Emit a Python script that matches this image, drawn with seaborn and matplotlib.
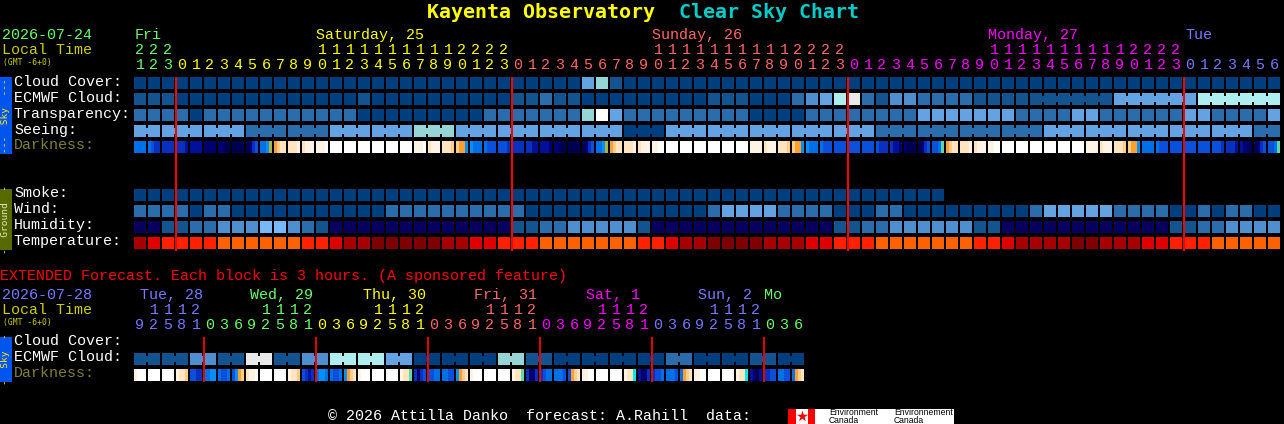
import numpy as np
import matplotlib
matplotlib.use("Agg")
import matplotlib.pyplot as plt
from matplotlib.colors import ListedColormap
from matplotlib.patches import Rectangle
import seaborn as sns

W, H = 1284, 424

# colour codes used by the block rows
block_colors = {
    "a": "#003f7f", "b": "#13538f", "c": "#2b6cad", "d": "#4f8fd0", "e": "#63a3e3",
    "f": "#95d5d5", "g": "#aeeeee", "h": "#ffffff", "i": "#e9e9e9", "z": "#08005f",
    "l": "#78b8f8", "n": "#7f0000", "m": "#a80000", "r": "#e00000", "s": "#ff2000",
    "o": "#ff6000",
}
dark_colors = {
    "0": "#000050", "1": "#00006e", "2": "#00109a", "3": "#0a30c0", "4": "#0a50dc",
    "5": "#0070e8", "6": "#0090f8", "t": "#60d8a0", "q": "#b0b040", "y": "#00e8e8",
    "8": "#f8a030", "9": "#ffcc88", "A": "#ffe4c0", "B": "#fff4e4", "C": "#ffffff",
}

# main chart, one letter per hour
cloud_cover = "a" * 32 + "efb" + "a" * 47
ecmwf_cloud = ("bbb" + "a" * 13 + "b" + "a" * 10 + "bbcbb" + "a" * 9 + "bbb" + "aaa" + "cdegi"
               + "cbddcccc" + "b" * 10 + "e" * 6 + "g" * 6)
transparency = ("cccca" + "c" * 11 + "a" * 5 + "aaaa" + "c" * 7 + "fhe" + "c" * 9 + "aaaa"
                + "cccc" + "cccc" + "eeeeeee" + "cccc" + "ee" + "cccccc" + "ee" + "cccc" + "e")
seeing = ("ee" + "eee" + "eee" + "ccc" + "ccc" + "eee" + "eee" + "fff" + "eee" + "eee" + "eee"
          + "eee" + "aaa" + "eee" + "eee" + "eee" + "eee" + "eee" + "ccc" + "ccc" + "ccc"
          + "ccc" + "eee" + "eee" + "eee" + "eee" + "eee" + "cc")
smoke = "a" * 58 + "." * 24
wind = ("ccccacc" + "a" * 11 + "c" * 10 + "a" * 13 + "c" + "eeee" + "cccc" + "aaa" + "cc"
        + "a" * 9 + "c" + "eeeee" + "cccc" + "aa" + "cacc" + "aa")
humidity = ("zzbbccdddlldcb" + "z" * 13 + "bbccddddd" + "b" + "z" * 13 + "bb" + "cc" + "dddddd"
            + "bb" + "z" * 12 + "bbcc" + "dddd")
temperature = ("mrssssoooooossrmmnnnnn" + "mmrrsss" + "ooooooo" + "ssrmm" + "nnnn" + "mmm"
               + "rr" + "sss" + "ooooooo" + "ssr" + "mmmm" + "nn" + "mmm" + "rr" + "sss" + "ooooo")

darkness = [
    "5555", "5433", "3333", "3332", "2222", "1111", "1100", "0000", "0134", "556q", "89AA", "AAAB",
    "ABBB", "BBBC", "CCCC", "CCCC", "CCCC", "CCCC", "CCCC", "CCCC", "BBBC", "ABBB", "AAA9", "9886",
    "6555", "5444", "4443", "3333", "3322", "2221", "1100", "0000", "0134", "556q", "89AA", "AAAB",
    "ABBB", "BBCC", "CCCC", "CCCC", "CCCC", "CCCC", "CCCC", "CCCC", "BBBB", "ABBB", "AAA9", "9886",
    "6555", "5444", "4444", "4444", "4444", "4333", "3221", "1000", "0134", "445t", "89AA", "AAAB",
    "ABBB", "BBCC", "CCCC", "CCCC", "CCCC", "CCCC", "CCCC", "CCCC", "BBBB", "ABBB", "AAA9", "9886",
    "5555", "5444", "4444", "4444", "4444", "4443", "3332", "2110", "0134", "445t",
]

seeing_groups = [0] + list(range(2, 82, 3))
ecmwf_groups = list(range(0, 65)) + [70, 76]

# extended chart, one letter per block
ext_cloud = ("bbbbddbbiibbddgggg" + "ee" + "aaaaaa" + "ff" + "bbaaaaaaaacc" + "aaaa" + "bbaa")
ext_groups = list(range(0, 48, 2))
ext_darkness = [
    "BCCC", "CCCC", "CCCC", "BAA9", "4433", "5566", "5445", "4689", "ABBC", "CCCC", "CCCC", "BAA9",
    "4323", "5665", "5445", "689A", "BCCC", "CCCC", "CCCC", "BAAt", "3134", "4455", "5544", "689A",
    "BCCC", "CCCC", "CCCC", "BAAt", "3113", "3455", "5554", "489A", "BBCC", "CCCC", "CCCC", "BAAy",
    "2113", "3445", "5554", "589A", "BBCC", "CCCC", "CCCC", "BAAy", "2102", "3344", "5544", "589A",
]

# hour labels and the day they belong to
main_hours = [21, 22, 23] + list(range(24)) * 3 + list(range(7))
main_hour_colors = ["#66ff66"] * 3 + ["#ffff00"] * 24 + ["#ff6666"] * 24 + ["#ff00ff"] * 24 + ["#7777ff"] * 7
main_days = ["Fri", "Saturday, 25", "Sunday, 26", "Monday, 27", "Tue"]
main_day_x = [135, 316, 652, 988, 1185]
main_day_colors = ["#66ff66", "#ffff00", "#ff6666", "#ff00ff", "#7777ff"]
main_midnights = [3, 27, 51, 75]

ext_hours = [9, 12, 15, 18, 21] + [0, 3, 6, 9, 12, 15, 18, 21] * 5 + [0, 3, 6]
ext_hour_colors = (["#7777ff"] * 5 + ["#66ff66"] * 8 + ["#ffff00"] * 8 + ["#ff6666"] * 8
                   + ["#ff00ff"] * 8 + ["#7777ff"] * 8 + ["#66ff66"] * 3)
ext_days = ["Tue, 28", "Wed, 29", "Thu, 30", "Fri, 31", "Sat, 1", "Sun, 2", "Mo"]
ext_day_x = [140, 250, 363, 474, 586, 698, 764]
ext_day_colors = ["#7777ff", "#66ff66", "#ffff00", "#ff6666", "#ff00ff", "#7777ff", "#66ff66"]
ext_midnights = [5, 13, 21, 29, 37, 45]

LEFT = 134
PITCH = 14
BLOCK_CMAP = ListedColormap(list(block_colors.values()))
DARK_CMAP = ListedColormap(list(dark_colors.values()))
BLOCK_KEYS = list(block_colors.keys())
DARK_KEYS = list(dark_colors.keys())
MONO = "Liberation Mono"

sns.set_style("white")
fig = plt.figure(figsize=(W / 100, H / 100), dpi=100, facecolor="black")


def px_axes(left, top, width, height):
    ax = fig.add_axes([left / W, 1 - (top + height) / H, width / W, height / H])
    ax.set_facecolor("black")
    return ax


def block_row(top, codes, groups=None):
    # one heatmap column per pixel: 12 px block, then a 2 px masked gap
    n = len(codes)
    vals = []
    for c in codes:
        vals += [BLOCK_KEYS.index(c) if c != "." else -1] * 12 + [-1, -1]
    vals = np.array([vals])
    ax = px_axes(LEFT, top, n * PITCH, 12)
    sns.heatmap(vals, mask=vals < 0, cmap=BLOCK_CMAP, vmin=-0.5, vmax=len(BLOCK_KEYS) - 0.5, cbar=False,
                xticklabels=False, yticklabels=False, ax=ax)
    if groups is not None:
        ends = groups[1:] + [n]
        for s, e in zip(groups, ends):
            for i in range(s, e - 1):
                if codes[i] == codes[i + 1]:
                    ax.hlines(0.5, (i + 1) * PITCH - 2, (i + 1) * PITCH, color=block_colors[codes[i]],
                              linewidth=6 * 72 / 100, capstyle="butt", zorder=5)


def darkness_row(top, samples):
    # every block is 4 samples of 3 px, then a 2 px gap
    vals = []
    for cell in samples:
        for c in cell:
            vals += [DARK_KEYS.index(c)] * 3
        vals += [-1, -1]
    vals = np.array([vals])
    ax = px_axes(LEFT, top, len(samples) * PITCH, 12)
    sns.heatmap(vals, mask=vals < 0, cmap=DARK_CMAP, vmin=-0.5, vmax=len(DARK_KEYS) - 0.5, cbar=False,
                xticklabels=False, yticklabels=False, ax=ax)


# main sky rows
block_row(77, cloud_cover)
block_row(93, ecmwf_cloud, ecmwf_groups)
block_row(109, transparency)
block_row(125, seeing, seeing_groups)
darkness_row(141, darkness)
# ground rows
block_row(189, smoke)
block_row(205, wind)
block_row(221, humidity)
block_row(237, temperature)
# extended rows
block_row(353, ext_cloud, ext_groups)
darkness_row(369, ext_darkness)

# overlay in pixel coordinates for text and the midnight lines
ov = fig.add_axes([0, 0, 1, 1], zorder=10)
ov.set_xlim(0, W)
ov.set_ylim(H, 0)
ov.axis("off")


def label(x, y, s, color="white", size=15, **kw):
    # y is the text baseline
    kw.setdefault("family", MONO)
    ov.text(x, y, s, color=color, fontsize=size * 0.72, ha=kw.pop("ha", "left"), va="baseline", **kw)


for m in main_midnights:
    ov.vlines(LEFT + m * PITCH, 77, 251, color="#ff0000", linewidth=2 * 0.72)
for m in ext_midnights:
    ov.vlines(LEFT + m * PITCH, 337, 382, color="#e80000", linewidth=2 * 0.72)

label(427, 18, "Kayenta Observatory", "#ffff00", 20, fontweight="bold", family="DejaVu Sans Mono")
label(679, 18, "Clear Sky Chart", "#00cccc", 20, fontweight="bold", family="DejaVu Sans Mono")

# date blocks on the left
label(2, 39, "2026-07-24", "#66ff66")
label(2, 54, "Local Time", "#cccc00")
label(3, 64.5, "(GMT -6+0)", "#cccc00", 8, family="DejaVu Sans Mono")
label(2, 299, "2026-07-28", "#7777ff")
label(2, 314, "Local Time", "#cccc00")
label(3, 324.5, "(GMT -6+0)", "#cccc00", 8, family="DejaVu Sans Mono")
label(0, 280, "EXTENDED Forecast. Each block is 3 hours. (A sponsored feature)", "#ff0000")

for name, x, col in zip(main_days, main_day_x, main_day_colors):
    label(x, 39, name, col)
for name, x, col in zip(ext_days, ext_day_x, ext_day_colors):
    label(x, 299, name, col)


def hour_labels(hours, colors, tens_y, units_y):
    for i, (h, col) in enumerate(zip(hours, colors)):
        x = LEFT + i * PITCH + 6
        if h >= 10:
            label(x, tens_y, str(h // 10), col, ha="center")
        label(x, units_y, str(h % 10), col, ha="center")


hour_labels(main_hours, main_hour_colors, 54, 69)
hour_labels(ext_hours, ext_hour_colors, 314, 329)

for y, s, col in [(86, "Cloud Cover:", "white"), (102, "ECMWF Cloud:", "white"), (118, "Transparency:", "white"),
                  (134, "Seeing:", "white"), (149, "Darkness:", "#808033"), (197, "Smoke:", "white"),
                  (213, "Wind:", "white"), (229, "Humidity:", "white"), (245, "Temperature:", "white"),
                  (345, "Cloud Cover:", "white"), (361, "ECMWF Cloud:", "white"), (377, "Darkness:", "#808033")]:
    label(14, y, s, col)

# side bars
for top, bottom, bg, fg, s in [(77, 154, "#0055ee", "#ffee00", "---  Sky  ---"),
                               (189, 250, "#556b00", "#e8e8c0", "-  Ground  -"),
                               (337, 382, "#0055ee", "#ffee00", "-  Sky  -")]:
    ov.add_patch(Rectangle((0, top), 12, bottom - top, color=bg, lw=0))
    ov.text(6, (top + bottom) / 2, s, color=fg, fontsize=6.8, rotation=90, ha="center", va="center",
            family="DejaVu Sans Mono")

# footer
label(328, 420.5, "\u00a9 2026 Attilla Danko  forecast: A.Rahill  data:")
ov.add_patch(Rectangle((788, 409), 166, 15, color="white", lw=0))
ov.add_patch(Rectangle((788, 409), 8, 15, color="#ff0000", lw=0))
ov.add_patch(Rectangle((808, 409), 7, 15, color="#ff0000", lw=0))
ov.scatter([802], [416], marker="*", s=70, color="#ff0000", linewidths=0)
for x, top_word in [(829, "Environment"), (894, "Environnement")]:
    ov.text(x, 412.5, top_word, color="black", fontsize=6.2, va="center", family="Liberation Sans")
    ov.text(x, 420.5, "Canada", color="black", fontsize=6.2, va="center", family="Liberation Sans")

fig.savefig("out.png", dpi=100, facecolor="black")
